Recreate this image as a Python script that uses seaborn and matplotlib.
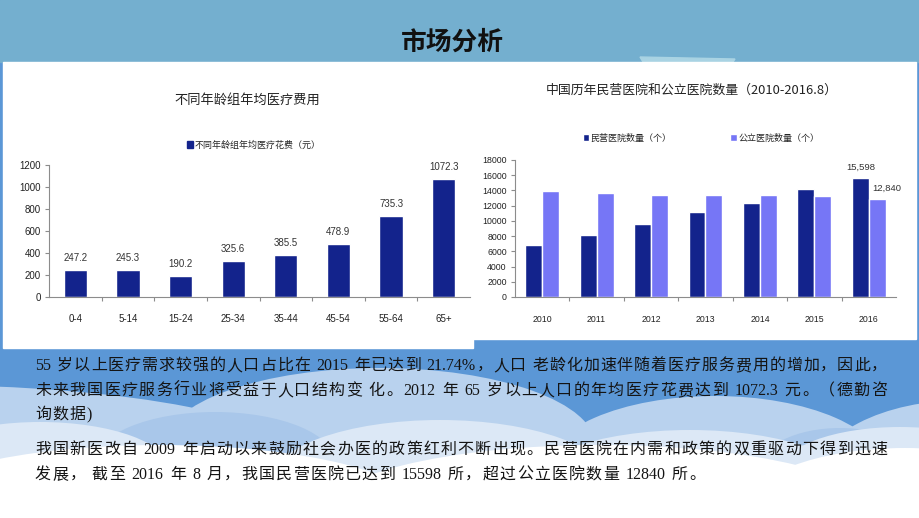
import re
import numpy as np
import pandas as pd
import seaborn as sns
import matplotlib.pyplot as plt
from matplotlib.patches import Rectangle, Ellipse, Polygon, Patch

# ---------------- data ----------------
age_groups = ["0-4", "5-14", "15-24", "25-34", "35-44", "45-54", "55-64", "65+"]
age_costs = [247.2, 245.3, 190.2, 325.6, 385.5, 478.9, 735.3, 1072.3]
left_title = "不同年龄组年均医疗费用"
left_legend = "不同年龄组年均医疗花费（元）"

years = ["2010", "2011", "2012", "2013", "2014", "2015", "2016"]
private_hosp = [6800, 8200, 9650, 11150, 12300, 14200, 15598]
public_hosp = [13950, 13600, 13400, 13450, 13400, 13250, 12840]
series_names = ["民营医院数量（个）", "公立医院数量（个）"]
right_title = "中国历年民营医院和公立医院数量（2010-2016.8）"

slide_title = "市场分析"
para1 = [
    "55 岁以上医疗需求较强的人口占比在 2015 年已达到 21.74%，人口 老龄化加速伴随着医疗服务费用的增加，因此，",
    "未来我国医疗服务行业将受益于人口结构变 化。2012 年 65 岁以上人口的年均医疗花费达到 1072.3 元。（德勤咨",
    "询数据)",
]
para2 = [
    "我国新医改自 2009 年启动以来鼓励社会办医的政策红利不断出现。民营医院在内需和政策的双重驱动下得到迅速",
    "发展， 截至 2016 年 8 月，我国民营医院已达到 15598 所，超过公立医院数量 12840 所。",
]

NAVY = "#13238C"
LIGHT = "#7676F6"
GRAY = "#8C8C8C"

sns.set_theme(style="white")
plt.rcParams["font.family"] = ["Liberation Sans", "Noto Sans CJK SC"]
plt.rcParams["axes.unicode_minus"] = False

W, H = 920, 518
fig = plt.figure(figsize=(W / 100, H / 100), dpi=100)

# ---------------- background (pixel coordinates) ----------------
bg = fig.add_axes([0, 0, 1, 1], zorder=0)
bg.set_xlim(0, W)
bg.set_ylim(H, 0)
bg.axis("off")
bg.add_patch(Rectangle((0, 0), W, H, color="#5B97D6", zorder=0))
bg.add_patch(Rectangle((0, 0), W, 62, color="#74AFCF", zorder=1))
bg.add_patch(Polygon([(640, 57), (735, 59), (733, 62), (643, 62)], closed=True,
                     color="#A9D3E3", zorder=1))

def clouds(lst, color, z):
    for cx, cy, a, b in lst:
        bg.add_patch(Ellipse((cx, cy), 2 * a, 2 * b, color=color, lw=0, zorder=z))

# light-blue cloud row
clouds([(-80, 460, 380, 75), (380, 445, 215, 77), (715, 470, 170, 74), (965, 478, 150, 78)],
       "#B9D2EE", 2)
# slightly deeper lumps behind the paler clouds
clouds([(215, 462, 120, 50), (840, 468, 80, 40)], "#A9C7EA", 3)
# pale clouds
clouds([(40, 470, 130, 48), (440, 482, 170, 62), (690, 492, 170, 62), (900, 472, 120, 45)],
       "#DCE8F6", 4)
# white clouds
clouds([(160, 510, 260, 65), (600, 515, 280, 70), (905, 510, 160, 62)], "#FFFFFF", 5)
bg.add_patch(Rectangle((0, 490), W, 30, color="#FFFFFF", zorder=6))

# white chart panels
bg.add_patch(Rectangle((3, 62), 470, 286, color="white", zorder=7))
bg.add_patch(Rectangle((473, 62), 443, 277, color="white", zorder=7))

bg.text(452, 42, slide_title, ha="center", va="center", fontsize=18.5, fontweight="bold",
        color="#111111", family=["Noto Sans CJK SC"], zorder=8)

# ---------------- helper: justified lines ----------------
TXT_FAMILY = ["Liberation Serif", "Noto Sans CJK SC"]
TXT_SIZE = 11.5
renderer = fig.canvas.get_renderer()

def tokens_of(line):
    return re.findall(r"[A-Za-z0-9.%]+| +|.", line)

def measure(tok):
    t = bg.text(0, 0, tok.replace(" ", "\u00a0") if tok.strip() == "" else tok,
                fontsize=TXT_SIZE, family=TXT_FAMILY)
    w = t.get_window_extent(renderer).width
    t.remove()
    return w

def draw_line(line, x0, y, x1=None, gap=None):
    toks = tokens_of(line)
    widths = [measure(t) for t in toks]
    if x1 is not None:
        gap = (x1 - x0 - sum(widths)) / max(len(toks) - 1, 1)
    x = x0
    for tok, w in zip(toks, widths):
        if tok.strip():
            bg.text(x, y, tok, fontsize=TXT_SIZE, family=TXT_FAMILY, color="#141414",
                    va="center", ha="left", zorder=9)
        x += w + gap
    return gap

X0, X1 = 35, 887
g1 = draw_line(para1[0], X0, 366, X1)
g2 = draw_line(para1[1], X0, 391, X1)
draw_line(para1[2], X0, 415, gap=(g1 + g2) / 2)
g4 = draw_line(para2[0], X0, 450, X1)
draw_line(para2[1], X0, 475, gap=g4)

# ---------------- left chart ----------------
axL = fig.add_axes([49 / W, 1 - 297 / H, (470 - 49) / W, (297 - 165) / H], zorder=10)
axL.set_facecolor("none")
sns.barplot(x=age_groups, y=age_costs, ax=axL, color=NAVY, width=0.44, saturation=1)
axL.set_ylim(0, 1200)
axL.set_xlim(-0.5, len(age_groups) - 0.5)
axL.set_yticks(np.arange(0, 1201, 200))
axL.set_xlabel("")
axL.set_ylabel("")
axL.set_xticks(np.arange(len(age_groups) - 1) + 0.5, minor=True)
for s in ["top", "right"]:
    axL.spines[s].set_visible(False)
for s in ["left", "bottom"]:
    axL.spines[s].set_color(GRAY)
    axL.spines[s].set_linewidth(0.8)
axL.tick_params(axis="y", which="major", left=True, length=3, width=0.8, color=GRAY,
                labelsize=7, pad=3, labelcolor="#222222")
axL.tick_params(axis="x", which="major", bottom=False, labelsize=7, pad=6, labelcolor="#222222")
axL.tick_params(axis="x", which="minor", bottom=True, length=3, width=0.8, color=GRAY)
for i, v in enumerate(age_costs):
    axL.annotate(f"{v:.1f}", (i, v), xytext=(0, 5), textcoords="offset points",
                 ha="center", va="bottom", fontsize=7, color="#333333")
axL.legend(handles=[Patch(color=NAVY, label=left_legend)], loc="center",
           bbox_to_anchor=(254 / W, 1 - 145 / H), bbox_transform=fig.transFigure,
           frameon=False, fontsize=6.5, handlelength=0.7, handleheight=0.7,
           handletextpad=0.2, borderpad=0)
fig.text(247 / W, 1 - 100 / H, left_title, ha="center", va="center", fontsize=9.5,
         family=["Noto Sans CJK SC"], color="#222222", zorder=11)

# ---------------- right chart ----------------
df = pd.DataFrame({
    "年份": years * 2,
    "数量": private_hosp + public_hosp,
    "类型": [series_names[0]] * len(years) + [series_names[1]] * len(years),
})
axR = fig.add_axes([515 / W, 1 - 297 / H, (896 - 515) / W, (297 - 160) / H], zorder=10)
axR.set_facecolor("none")
sns.barplot(data=df, x="年份", y="数量", hue="类型", palette=[NAVY, LIGHT], width=0.62,
            saturation=1, ax=axR)
axR.set_ylim(0, 18000)
axR.set_xlim(-0.5, len(years) - 0.5)
axR.set_yticks(np.arange(0, 18001, 2000))
axR.set_xlabel("")
axR.set_ylabel("")
axR.set_xticks(np.arange(len(years) - 1) + 0.5, minor=True)
for s in ["top", "right"]:
    axR.spines[s].set_visible(False)
for s in ["left", "bottom"]:
    axR.spines[s].set_color(GRAY)
    axR.spines[s].set_linewidth(0.8)
axR.tick_params(axis="y", which="major", left=True, length=3, width=0.8, color=GRAY,
                labelsize=6.3, pad=3, labelcolor="#222222")
axR.tick_params(axis="x", which="major", bottom=False, labelsize=6.3, pad=7, labelcolor="#222222")
axR.tick_params(axis="x", which="minor", bottom=True, length=3, width=0.8, color=GRAY)
last = len(years) - 1
axR.annotate(f"{private_hosp[-1]:,}", (last - 0.155, private_hosp[-1]), xytext=(0, 5),
             textcoords="offset points", ha="center", va="bottom", fontsize=6.8, color="#333333")
axR.annotate(f"{public_hosp[-1]:,}", (last + 0.155, public_hosp[-1]), xytext=(7, 5),
             textcoords="offset points", ha="center", va="bottom", fontsize=6.8, color="#333333")
sns.move_legend(axR, "center", bbox_to_anchor=(701 / W, 1 - 138 / H),
                bbox_transform=fig.transFigure, ncol=2, frameon=False, title=None,
                fontsize=6.5, handlelength=0.7, handleheight=0.7, handletextpad=0.2,
                columnspacing=6.5, borderpad=0)
fig.text(692 / W, 1 - 90 / H, right_title, ha="center", va="center", fontsize=9.3,
         family=["Noto Sans CJK SC"], color="#222222", zorder=11)

fig.savefig("out.png", dpi=100)
